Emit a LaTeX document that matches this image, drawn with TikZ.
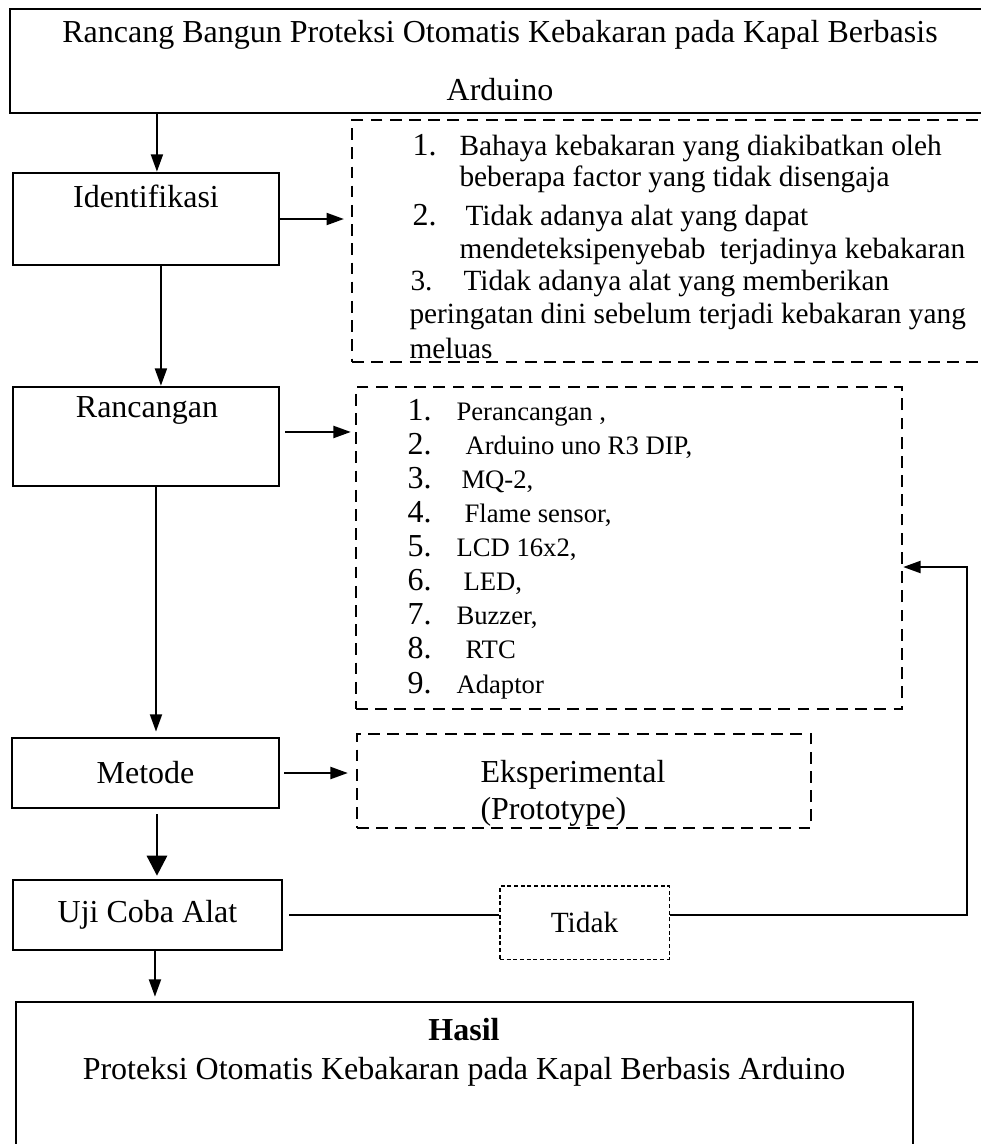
\documentclass[tikz,border=0pt]{standalone}
\usepackage{fontspec}
\setmainfont{Liberation Serif}
\usetikzlibrary{arrows.meta, positioning}

\begin{document}
\begin{tikzpicture}[x=0.375pt, y=-0.375pt, >={Triangle[length=6.5pt, width=4.5pt]},
  every node/.style={font=\fontsize{12}{14.4}\selectfont},
  box/.style={draw, line width=1pt, inner sep=0pt},
  dbox/.style={draw, line width=0.9pt, dash pattern=on 4.4pt off 2.8pt, inner sep=0pt},
  txt/.style={inner sep=0pt, anchor=west, text height=8.5pt, text depth=2.5pt},
  idtxt/.style={txt, font=\fontsize{11}{13}\selectfont},
  itemtxt/.style={txt, font=\fontsize{10}{12}\selectfont},
  conn/.style={->, line width=0.75pt},
  thickconn/.style={-{Triangle[length=7.5pt, width=7.5pt]}, line width=1.1pt}]
\useasboundingbox (0,0) rectangle (980,1144);

% main column
\node[box, minimum width=367.5pt, minimum height=39pt, align=center, font=\fontsize{12}{21.75}\selectfont] (title) at (500,61) {Rancang Bangun Proteksi Otomatis Kebakaran pada Kapal Berbasis\\ Arduino};
\node[box, minimum width=99.75pt, minimum height=34.5pt] (ident) at (146,219) {};
\node (identtxt) at (146,196) {Identifikasi};
\node[box, minimum width=99.75pt, minimum height=37.1pt] (ranc) at (146,436.5) {};
\node (ranctxt) at (147,410) {Rancangan};
\node[box, minimum width=100.1pt, minimum height=26.25pt] (metode) at (145.5,773) {Metode};
\node[box, minimum width=100.9pt, minimum height=26.25pt] (uji) at (147.5,915) {Uji Coba Alat};
\node[box, minimum width=336.4pt, minimum height=74.25pt] (hasil) at (464.5,1101) {};
\node[align=center, font=\fontsize{12}{14.6}\selectfont] (hasiltxt) at (464,1052) {\textbf{Hasil}\\ Proteksi Otomatis Kebakaran pada Kapal Berbasis Arduino};

% dashed boxes
\node[dbox, minimum width=241.1pt, minimum height=90.75pt] (idbox) at (673.5,241) {};
\node[dbox, minimum width=204.75pt, minimum height=120.75pt] (partbox) at (629,548) {};
\node[dbox, minimum width=170.25pt, minimum height=35.25pt] (eksbox) at (584,781) {};
\node[draw, line width=0.4pt, dash pattern=on 1.5pt off 1pt, minimum width=63.4pt, minimum height=27.4pt, font=\fontsize{11}{13}\selectfont] (tidak) at (584.5,922.5) {Tidak};
\node[anchor=west, align=left, inner sep=0pt, font=\fontsize{12}{13.9}\selectfont] (ekstxt) at (480,793.5) {Eksperimental\\(Prototype)};

% identifikasi list
\node[txt] (idn1) at (412,147) {1.};
\node[idtxt] (idl1) at (459,147) {Bahaya kebakaran yang diakibatkan oleh};
\node[idtxt] (idl2) at (459,178) {beberapa factor yang tidak disengaja};
\node[txt] (idn2) at (412,217) {2.};
\node[idtxt] (idl3) at (465,217) {Tidak adanya alat yang dapat};
\node[idtxt] (idl4) at (459,250) {mendeteksipenyebab\ \ terjadinya kebakaran};
\node[idtxt] (idn3) at (410,282) {3.};
\node[idtxt] (idl5) at (463,282) {Tidak adanya alat yang memberikan};
\node[idtxt] (idl6) at (409,315) {peringatan dini sebelum terjadi kebakaran yang};
\node[idtxt] (idl7) at (409,350) {meluas};

% rancangan list
\foreach \i/\y/\x/\t in {1/412/456/{Perancangan ,}, 2/446/465/{Arduino uno R3 DIP,}, 3/480/461/{MQ-2,}, 4/514/464/{Flame sensor,}, 5/548/456/{LCD 16x2,}, 6/582/463/{LED,}, 7/616/456/{Buzzer,}, 8/650/465/{RTC}, 9/685/456/{Adaptor}} {
  \node[txt] (pn\i) at (407,\y) {\i.};
  \node[itemtxt] (pt\i) at (\x,\y) {\t};
}

% connectors
\draw[conn] ([xshift=4.1pt]ident.north |- title.south) -- ([xshift=4.1pt]ident.north);
\draw[conn] ([xshift=5.6pt]ident.south) -- ([xshift=5.6pt]ranc.north);
\draw[conn, shorten >=2.6pt] (ident.east) -- (ident.east -| idbox.west);
\draw[conn, shorten <=1.9pt, shorten >=1.5pt] ([yshift=1.7pt]ranc.east) -- ([yshift=1.7pt]ranc.east -| partbox.west);
\draw[conn, shorten >=1.9pt] ([xshift=3.75pt]ranc.south) -- ([xshift=3.75pt]ranc.south |- metode.north);
\draw[conn, shorten <=1.5pt, shorten >=3pt] (metode.east) -- (metode.east -| eksbox.west);
\draw[thickconn, shorten <=1.9pt, shorten >=1.1pt] ([xshift=4.3pt]metode.south) -- ([xshift=4.3pt]metode.south |- uji.north);
\draw[conn, shorten >=1.5pt] ([xshift=2.8pt]uji.south) -- ([xshift=2.8pt]uji.south |- hasil.north);
\draw[line width=0.75pt, shorten <=2.25pt] (uji.east) -- (tidak.west |- uji.east);
\coordinate (fb) at (967,567);
\draw[conn] (tidak.east |- uji.east) -| (fb) -- (fb -| partbox.east);
\end{tikzpicture}
\end{document}
